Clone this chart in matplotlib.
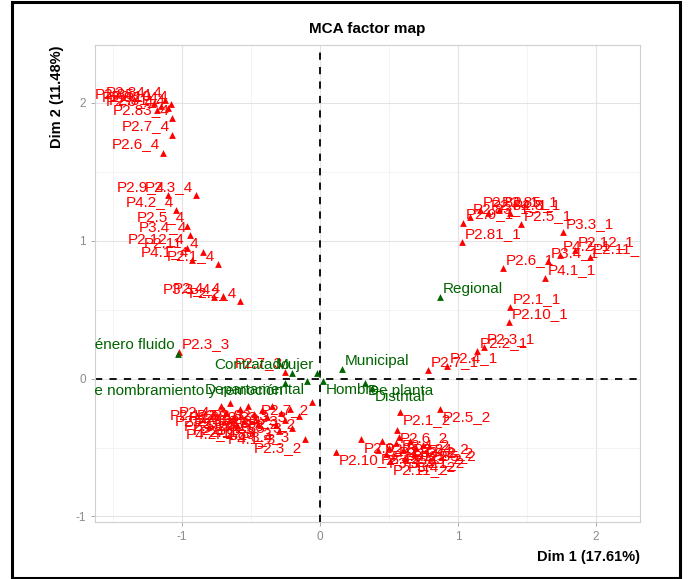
import matplotlib
matplotlib.use("Agg")
import matplotlib.pyplot as plt
from matplotlib.patches import Rectangle

plt.rcParams["font.family"] = ["Liberation Sans", "DejaVu Sans"]
plt.rcParams["axes.unicode_minus"] = False

# active categories (red)
act_labels = [
    "P2.84_4", "P2.85_4", "P2.82_4", "P2.81_4", "P2.8_4", "P2.10_4", "P2.83_4", "P2.7_4", "P2.6_4",
    "P2.9_4", "P2.3_4", "P4.2_4", "P2.5_4", "P3.4_4", "P2.12_4", "P2.11_4", "P4.1_4", "P2.1_4",
    "P3.3_4", "P2.4_4", "P2.2_4",
    "P2.82_1", "P2.83_1", "P2.84_1", "P2.85_1", "P2.8_1", "P2.9_1", "P2.5_1", "P2.81_1", "P3.3_1",
    "P2.12_1", "P2.11_1", "P2.6_1", "P4.1_1", "P3.4_1", "P4.2_1", "P2.1_1", "P2.10_1", "P2.3_1",
    "P2.2_1", "P2.4_1", "P2.7_1",
    "P2.1_2", "P2.5_2", "P2.6_2", "P2.9_2", "P2.10_2", "P2.11_2", "P2.8_2", "P2.81_2", "P2.82_2",
    "P2.83_2", "P2.84_2", "P2.85_2", "P3.3_2", "P3.4_2", "P4.1_2", "P4.2_2", "P2.12_2", "P2.4_2",
    "P2.7_2", "P2.3_2", "P2.2_2", "P2.1_3", "P2.2_3", "P2.4_3", "P2.5_3", "P2.6_3", "P2.8_3",
    "P2.9_3", "P2.10_3", "P2.11_3", "P2.12_3", "P2.81_3", "P2.82_3", "P2.83_3", "P2.84_3",
    "P2.85_3", "P3.3_3", "P3.4_3", "P4.1_3", "P4.2_3", "P2.7_3", "P2.3_3",
]
act_x = [
    -1.12, -1.20, -1.15, -1.10, -1.18, -1.08, -1.07, -1.07, -1.14,
    -1.10, -0.90, -1.04, -0.96, -0.94, -0.96, -0.85, -0.93, -0.74,
    -0.77, -0.70, -0.58,
    1.16, 1.09, 1.22, 1.30, 1.38, 1.04, 1.46, 1.03, 1.76,
    1.85, 1.96, 1.33, 1.63, 1.65, 1.74, 1.38, 1.37, 1.19,
    1.14, 0.92, 0.78,
    0.58, 0.87, 0.56, 0.30, 0.12, 0.51, 0.45, 0.50, 0.55,
    0.60, 0.65, 0.70, 0.48, 0.62, 0.68, 0.75, 0.42, 0.57,
    -0.06, -0.11, -0.15, -0.72, -0.68, -0.65, -0.62, -0.58, -0.55,
    -0.52, -0.48, -0.45, -0.42, -0.38, -0.35, -0.32, -0.28,
    -0.25, -0.22, -0.20, -0.30, -0.60, -0.25, -1.02,
]
act_y = [
    2.02, 2.00, 1.98, 1.96, 1.95, 1.99, 1.89, 1.77, 1.64,
    1.33, 1.33, 1.22, 1.11, 1.04, 0.95, 0.92, 0.86, 0.83,
    0.59, 0.60, 0.56,
    1.22, 1.17, 1.20, 1.22, 1.20, 1.13, 1.12, 0.99, 1.06,
    0.93, 0.88, 0.80, 0.73, 0.85, 0.90, 0.52, 0.41, 0.23,
    0.20, 0.09, 0.06,
    -0.24, -0.22, -0.37, -0.44, -0.53, -0.60, -0.45, -0.50, -0.47,
    -0.52, -0.45, -0.50, -0.55, -0.58, -0.55, -0.48, -0.52, -0.42,
    -0.17, -0.44, -0.27, -0.20, -0.25, -0.18, -0.28, -0.22, -0.31,
    -0.20, -0.26, -0.33, -0.23, -0.28, -0.20, -0.34, -0.25,
    -0.30, -0.22, -0.36, -0.38, -0.34, 0.05, 0.19,
]

# supplementary categories (green)
sup_labels = ["Género fluido", "Contratado", "Mujer", "Municipal", "Departamental",
              "Libre nombramiento y remoción", "Hombre", "De planta", "Distrital", "Regional"]
sup_x = [-1.03, -0.20, -0.02, 0.16, -0.09, -0.25, 0.02, 0.33, 0.38, 0.87]
sup_y = [0.18, 0.04, 0.04, 0.07, -0.02, -0.03, -0.02, -0.03, -0.07, 0.59]

xticks = [-1, 0, 1, 2]
yticks = [-1, 0, 1, 2]

RED = "#FF0000"
GREEN = "#006400"

fig = plt.figure(figsize=(6.88, 5.79), dpi=100)
ax = fig.add_axes([95 / 688, 1 - 522 / 579, 545 / 688, 477 / 579])


def put_labels(labels, xs, ys, color, force_left=()):
    for lab, x, y in zip(labels, xs, ys):
        left = x >= 0 or lab in force_left
        ha = "left" if left else "right"
        va = "bottom" if y > 0 else "top"
        dx = 2 if left else -2
        dy = 1 if y > 0 else -1
        ax.annotate(lab, (x, y), xytext=(dx, dy), textcoords="offset points",
                    ha=ha, va=va, color=color, fontsize=11, clip_on=True)


ax.scatter(act_x, act_y, marker="^", s=24, color=RED, zorder=3, linewidths=0)
put_labels(act_labels, act_x, act_y, RED, force_left={"P2.3_3"})
ax.scatter(sup_x, sup_y, marker="^", s=24, color=GREEN, zorder=4, linewidths=0)
put_labels(sup_labels, sup_x, sup_y, GREEN)

ax.axhline(0, color="black", linestyle=(0, (4, 4)), linewidth=1.3, zorder=2)
ax.axvline(0, color="black", linestyle=(0, (4, 4)), linewidth=1.3, zorder=2)

ax.set_xlim(-1.63, 2.32)
ax.set_ylim(-1.04, 2.42)
ax.set_xticks(xticks)
ax.set_yticks(yticks)
ax.set_xticks([-1.5, -0.5, 0.5, 1.5], minor=True)
ax.set_yticks([-0.5, 0.5, 1.5], minor=True)
ax.grid(True, which="major", color="#E3E3E3", linewidth=0.8, zorder=0)
ax.grid(True, which="minor", color="#F0F0F0", linewidth=0.5, zorder=0)
ax.set_axisbelow(True)
for s in ax.spines.values():
    s.set_color("#D0D0D0")
    s.set_linewidth(0.8)
ax.tick_params(which="major", colors="#9A9A9A", labelcolor="#8A8A8A", labelsize=8.5, length=3, width=0.6)
ax.tick_params(which="minor", length=0)

ax.set_title("MCA factor map", fontsize=11, fontweight="bold", pad=9)
ax.set_xlabel("Dim 1 (17.61%)", fontsize=10.5, fontweight="bold", loc="right", labelpad=5)
ax.set_ylabel("Dim 2 (11.48%)", fontsize=10.5, fontweight="bold", loc="top", labelpad=8)

fig.patches.append(Rectangle((12 / 688, 1 / 579), 668 / 688, 576 / 579, transform=fig.transFigure,
                             fill=False, edgecolor="black", linewidth=2.2))

fig.savefig("out.png", dpi=100)
